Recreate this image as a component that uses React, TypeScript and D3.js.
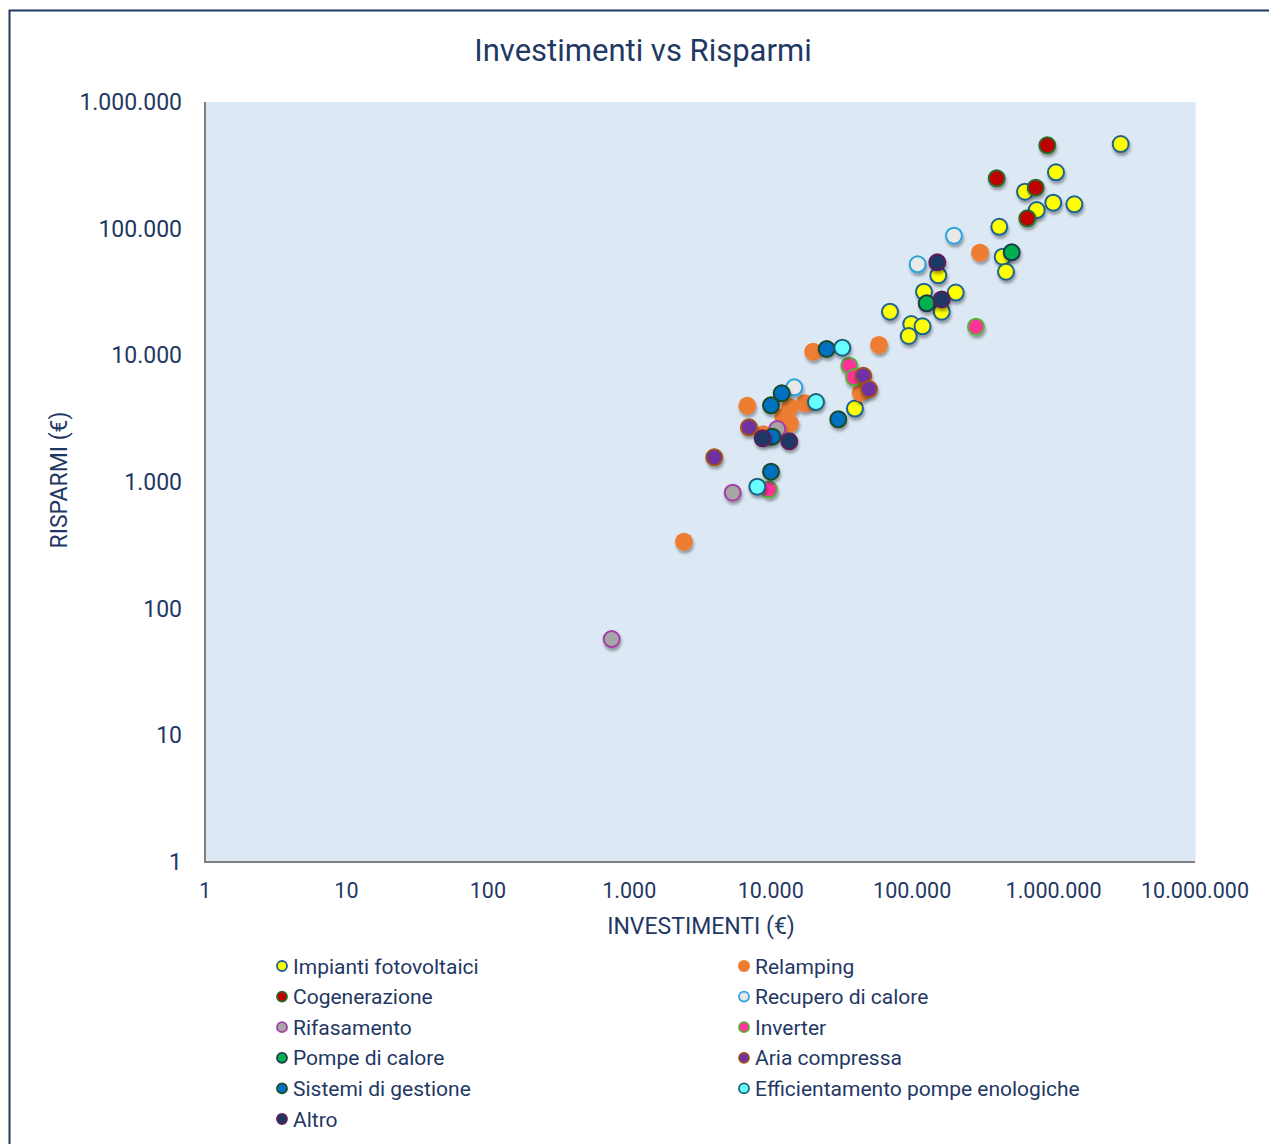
import React from "react";
import * as d3 from "d3";

const categories = [
  "Impianti fotovoltaici",
  "Relamping",
  "Cogenerazione",
  "Recupero di calore",
  "Rifasamento",
  "Inverter",
  "Pompe di calore",
  "Aria compressa",
  "Sistemi di gestione",
  "Efficientamento pompe enologiche",
  "Altro",
];

// [investimento, risparmio]
const impiantiFotovoltaici: [number, number][] = [
  [2983000, 465600], [1040000, 278600], [628000, 195800], [995000, 160300],
  [1402000, 155700], [760000, 140300], [413000, 103500], [436600, 60100],
  [461000, 45700], [153100, 42800], [121300, 31800], [203200, 31300],
  [161800, 22100], [69700, 22100], [98600, 17670], [118400, 16950],
  [94600, 14210], [39400, 3800],
];
const relamping: [number, number][] = [
  [301800, 64600], [58300, 12070], [20000, 10690], [43300, 5070],
  [6830, 4000], [13690, 3890], [17470, 4180], [12270, 3275],
  [13690, 2905], [8870, 2380], [2437, 338],
];
const cogenerazione: [number, number][] = [
  [903000, 455000], [396000, 249600], [747500, 210500], [652000, 120700],
];
const recuperoDiCalore: [number, number][] = [
  [197600, 88000], [109400, 52300], [14680, 5590],
];
const rifasamento: [number, number][] = [
  [11130, 2620], [5385, 823], [751, 57.6],
];
const inverter: [number, number][] = [
  [282800, 16830], [35960, 8280], [38800, 6710], [9720, 875],
];
const pompeDiCalore: [number, number][] = [
  [505800, 65040], [126800, 25760],
];
const ariaCompressa: [number, number][] = [
  [45150, 6900], [49550, 5420], [7020, 2703], [3990, 1567],
];
const sistemiDiGestione: [number, number][] = [
  [24880, 11220], [30060, 3126], [11960, 5015], [10050, 4030],
  [10260, 2280], [10050, 1206],
];
const efficientamentoPompe: [number, number][] = [
  [32090, 11490], [20900, 4280], [8040, 918],
];
const altro: [number, number][] = [
  [150600, 54230], [161800, 27600], [8780, 2213], [13530, 2096],
];

const seriesData = [
  impiantiFotovoltaici, relamping, cogenerazione, recuperoDiCalore,
  rifasamento, inverter, pompeDiCalore, ariaCompressa,
  sistemiDiGestione, efficientamentoPompe, altro,
];

const fills = [
  "#ffff00", "#ed7d31", "#c00000", "#e9e9e9", "#a6a6a6", "#ff3399",
  "#00b050", "#7030a0", "#0070c0", "#66ffff", "#1f3864",
];
const strokes = [
  "#1f6391", "none", "#2a6a2a", "#2aa3dc", "#a63ca6", "#5aae3c",
  "#1d3a4a", "#a0521e", "#1a4a26", "#1f5f80", "#5c1f5c",
];

const xTicks = [1, 10, 100, 1000, 10000, 100000, 1000000, 10000000];
const yTicks = [1, 10, 100, 1000, 10000, 100000, 1000000];

const NAVY = "#1f3864";
const FONT = "Roboto, 'Noto Sans', sans-serif";

const fmt = (v: number) => d3.format(",")(v).replace(/,/g, ".");

export default function App() {
  const W = 1269, H = 1144;
  const left = 205, right = 1195, top = 102, bottom = 862;
  const x = d3.scaleLog().domain([1, 1e7]).range([left, right]);
  const y = d3.scaleLog().domain([1, 1e6]).range([bottom, top]);

  const legendRowH = 30.6;
  const legendY0 = 966;
  const legendCols = [282, 744];

  return (
    <svg width={W} height={H} style={{ position: "absolute", left: 0, top: 0, display: "block" }}>
      <defs>
        <filter id="shadow" x="-50%" y="-50%" width="200%" height="200%">
          <feDropShadow dx="1" dy="3" stdDeviation="1.8" floodColor="#000" floodOpacity="0.35" />
        </filter>
      </defs>
      <rect x={0} y={0} width={W} height={H} fill="#fff" />
      <rect x={9.5} y={10.5} width={W + 20} height={H + 20} fill="none" stroke={NAVY} strokeWidth={2} />

      <text x={643} y={61} textAnchor="middle" fontFamily={FONT} fontSize={31} fill={NAVY}>
        Investimenti vs Risparmi
      </text>

      <rect x={left} y={top} width={right - left} height={bottom - top} fill="#dce9f5" />
      {xTicks.map((t) => (
        <line key={"gx" + t} x1={x(t)} x2={x(t)} y1={top} y2={bottom} stroke="#d9e6f3" strokeWidth={1} />
      ))}
      <line x1={left} x2={left} y1={top} y2={bottom + 1} stroke="#808080" strokeWidth={2} />
      <line x1={left - 1} x2={right} y1={bottom} y2={bottom} stroke="#808080" strokeWidth={2} />

      {yTicks.map((t) => (
        <text key={"yt" + t} x={182} y={y(t) + 8} textAnchor="end" fontFamily={FONT} fontSize={23} fill={NAVY}>
          {fmt(t)}
        </text>
      ))}
      {xTicks.map((t) => (
        <text key={"xt" + t} x={x(t)} y={898} textAnchor="middle" fontFamily={FONT} fontSize={21.5} fill={NAVY}>
          {fmt(t)}
        </text>
      ))}

      <text x={701} y={934} textAnchor="middle" fontFamily={FONT} fontSize={23} fill={NAVY}>
        INVESTIMENTI (€)
      </text>
      <text
        transform={`translate(67,${480}) rotate(-90)`}
        textAnchor="middle"
        fontFamily={FONT}
        fontSize={23}
        fill={NAVY}
      >
        RISPARMI (€)
      </text>

      {seriesData.map((pts, si) => (
        <g key={"s" + si} filter="url(#shadow)">
          {pts.map((p, i) => (
            <circle
              key={i}
              cx={x(p[0])}
              cy={y(p[1])}
              r={strokes[si] === "none" ? 9 : 8}
              fill={fills[si]}
              stroke={strokes[si]}
              strokeWidth={2}
            />
          ))}
        </g>
      ))}

      {categories.map((c, i) => {
        const col = i % 2;
        const row = Math.floor(i / 2);
        const cx = legendCols[col];
        const cy = legendY0 + row * legendRowH;
        return (
          <g key={"lg" + i}>
            <circle
              cx={cx}
              cy={cy}
              r={strokes[i] === "none" ? 6 : 5}
              fill={fills[i]}
              stroke={strokes[i]}
              strokeWidth={1.8}
            />
            <text x={cx + 11} y={cy + 7.5} fontFamily={FONT} fontSize={21} fill={NAVY}>
              {c}
            </text>
          </g>
        );
      })}
    </svg>
  );
}
